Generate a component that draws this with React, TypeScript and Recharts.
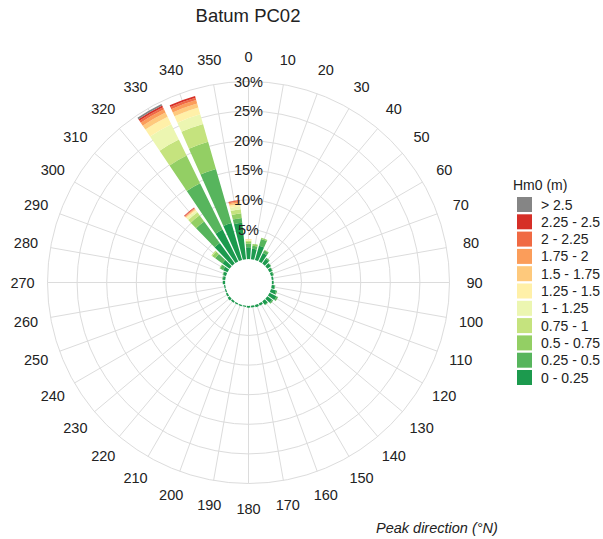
import React from "react";
import {
  RadialBarChart,
  RadialBar,
  PolarAngleAxis,
  PolarRadiusAxis,
  PolarGrid,
  Legend,
} from "recharts";

const directions = [
  0, 10, 20, 30, 40, 50, 60, 70, 80, 90, 100, 110, 120, 130, 140, 150, 160, 170,
  180, 190, 200, 210, 220, 230, 240, 250, 260, 270, 280, 290, 300, 310, 320, 330,
  340, 350,
];

// percent of records per direction, one array per Hm0 class (lowest first)
const hs0 = [2.0, 1.8, 2.5, 1.6, 1.0, 0.7, 0.5, 0.4, 0.3, 0.3, 0.5, 0.9, 1.3, 1.0, 0.7, 0.4, 0.4, 0.3, 0.3, 0.2, 0.2, 0.2, 0.3, 0.4, 0.3, 0.2, 0.2, 0.4, 0.4, 0.5, 0.8, 1.5, 4.3, 6.0, 6.5, 6.2];
const hs1 = [0.6, 0.5, 1.2, 0.5, 0.2, 0.1, 0.1, 0.1, 0.0, 0.0, 0.1, 0.2, 0.3, 0.2, 0.1, 0.0, 0.0, 0.0, 0.0, 0.0, 0.0, 0.0, 0.0, 0.0, 0.0, 0.0, 0.0, 0.0, 0.1, 0.1, 0.6, 1.5, 4.5, 8.7, 9.5, 0.8];
const hs2 = [0.3, 0.3, 0.2, 0.1, 0.0, 0.0, 0.0, 0.0, 0.0, 0.0, 0.0, 0.0, 0.0, 0.0, 0.0, 0.0, 0.0, 0.0, 0.0, 0.0, 0.0, 0.0, 0.0, 0.0, 0.0, 0.0, 0.0, 0.0, 0.0, 0.0, 0.1, 0.6, 1.3, 5.2, 4.8, 0.8];
const hs3 = [0.2, 0.0, 0.0, 0.0, 0.0, 0.0, 0.0, 0.0, 0.0, 0.0, 0.0, 0.0, 0.0, 0.0, 0.0, 0.0, 0.0, 0.0, 0.0, 0.0, 0.0, 0.0, 0.0, 0.0, 0.0, 0.0, 0.0, 0.0, 0.0, 0.0, 0.0, 0.2, 0.6, 3.0, 3.1, 0.7];
const hs4 = [0.1, 0.0, 0.0, 0.0, 0.0, 0.0, 0.0, 0.0, 0.0, 0.0, 0.0, 0.0, 0.0, 0.0, 0.0, 0.0, 0.0, 0.0, 0.0, 0.0, 0.0, 0.0, 0.0, 0.0, 0.0, 0.0, 0.0, 0.0, 0.0, 0.0, 0.0, 0.0, 0.35, 2.9, 1.7, 0.5];
const hs5 = [0.15, 0.0, 0.0, 0.0, 0.0, 0.0, 0.0, 0.0, 0.0, 0.0, 0.0, 0.0, 0.0, 0.0, 0.0, 0.0, 0.0, 0.0, 0.0, 0.0, 0.0, 0.0, 0.0, 0.0, 0.0, 0.0, 0.0, 0.0, 0.0, 0.0, 0.0, 0.0, 0.2, 1.4, 1.2, 0.4];
const hs6 = [0.05, 0.0, 0.0, 0.0, 0.0, 0.0, 0.0, 0.0, 0.0, 0.0, 0.0, 0.0, 0.0, 0.0, 0.0, 0.0, 0.0, 0.0, 0.0, 0.0, 0.0, 0.0, 0.0, 0.0, 0.0, 0.0, 0.0, 0.0, 0.0, 0.0, 0.0, 0.0, 0.15, 0.8, 0.7, 0.25];
const hs7 = [0.0, 0.0, 0.0, 0.0, 0.0, 0.0, 0.0, 0.0, 0.0, 0.0, 0.0, 0.0, 0.0, 0.0, 0.0, 0.0, 0.0, 0.0, 0.0, 0.0, 0.0, 0.0, 0.0, 0.0, 0.0, 0.0, 0.0, 0.0, 0.0, 0.0, 0.0, 0.0, 0.1, 0.6, 0.6, 0.2];
const hs8 = [0.0, 0.0, 0.0, 0.0, 0.0, 0.0, 0.0, 0.0, 0.0, 0.0, 0.0, 0.0, 0.0, 0.0, 0.0, 0.0, 0.0, 0.0, 0.0, 0.0, 0.0, 0.0, 0.0, 0.0, 0.0, 0.0, 0.0, 0.0, 0.0, 0.0, 0.0, 0.0, 0.1, 0.4, 0.4, 0.15];
const hs9 = [0.0, 0.0, 0.0, 0.0, 0.0, 0.0, 0.0, 0.0, 0.0, 0.0, 0.0, 0.0, 0.0, 0.0, 0.0, 0.0, 0.0, 0.0, 0.0, 0.0, 0.0, 0.0, 0.0, 0.0, 0.0, 0.0, 0.0, 0.0, 0.0, 0.0, 0.0, 0.0, 0.1, 0.3, 0.3, 0.05];
const hs10 = [0.0, 0.0, 0.0, 0.0, 0.0, 0.0, 0.0, 0.0, 0.0, 0.0, 0.0, 0.0, 0.0, 0.0, 0.0, 0.0, 0.0, 0.0, 0.0, 0.0, 0.0, 0.0, 0.0, 0.0, 0.0, 0.0, 0.0, 0.0, 0.0, 0.0, 0.0, 0.0, 0.0, 0.3, 0.0, 0.0];

const classLabels = ["0 - 0.25", "0.25 - 0.5", "0.5 - 0.75", "0.75 - 1", "1 - 1.25", "1.25 - 1.5", "1.5 - 1.75", "1.75 - 2", "2 - 2.25", "2.25 - 2.5", "> 2.5"];
const classColors = ["#1c9a4e", "#57b55d", "#93cf64", "#c5e37e", "#ecf6b1", "#fff0a8", "#fec97c", "#fb9d5a", "#f06a43", "#d62f27", "#858585"];
const classValues = [hs0, hs1, hs2, hs3, hs4, hs5, hs6, hs7, hs8, hs9, hs10];

const pctTicks = [5, 10, 15, 20, 25, 30];

const data = directions.map((dir, i) => {
  const row: Record<string, number> = { dir };
  classValues.forEach((vals, k) => {
    row["c" + k] = vals[i];
  });
  return row;
});

const FONT = "'Liberation Sans', Arial, sans-serif";
const CX = 248.5;
const CY = 282.5;
const OUTER = 201;
const LABEL_R = 226;
// band scale puts the tick at the band edge; labels sit at the band middle
const HALF_BAND = 360 / directions.length / 2;

function DirTick(props: any) {
  const { payload } = props;
  const a = ((payload.coordinate + HALF_BAND) * Math.PI) / 180;
  const x = CX + LABEL_R * Math.cos(a);
  const y = CY - LABEL_R * Math.sin(a);
  return (
    <text x={x} y={y} textAnchor="middle" dominantBaseline="central" fontSize={14.5} fill="#222" fontFamily={FONT}>
      {payload.value}
    </text>
  );
}

function PctTick(props: any) {
  const { x, y, payload } = props;
  return (
    <text x={x} y={y} textAnchor="middle" dominantBaseline="central" fontSize={14.5} fill="#222" fontFamily={FONT}>
      {payload.value}%
    </text>
  );
}

function HmLegend() {
  const rows = classLabels.map((l, i) => ({ l, c: classColors[i] })).reverse();
  return (
    <svg width={93} height={220} style={{ display: "block" }}>
      <text x={3} y={11} dominantBaseline="central" fontSize={14} fill="#222" fontFamily={FONT}>
        Hm0 (m)
      </text>
      {rows.map((r, i) => (
        <g key={r.l}>
          <rect x={7} y={23 + i * 17.3} width={15} height={15} fill={r.c} />
          <text x={31} y={30.5 + i * 17.3} dominantBaseline="central" fontSize={14} fill="#222" fontFamily={FONT}>
            {r.l}
          </text>
        </g>
      ))}
    </svg>
  );
}

export default function App() {
  return (
    <div style={{ position: "absolute", left: 0, top: 0, width: 603, height: 539, background: "#fff" }}>
      <RadialBarChart
        width={603}
        height={539}
        data={data}
        layout="centric"
        cx={CX}
        cy={CY}
        innerRadius={23.4}
        outerRadius={OUTER}
        startAngle={90 - HALF_BAND}
        endAngle={-270 - HALF_BAND}
        barCategoryGap="10%"
        margin={{ top: 0, right: 0, bottom: 0, left: 0 }}
      >
        <PolarGrid
          gridType="circle"
          stroke="#dcdcdc"
          polarAngles={directions.map((d) => 90 - d)}
        />
        <PolarAngleAxis
          dataKey="dir"
          type="category"
          axisLine={false}
          tickLine={false}
          tick={<DirTick />}
        />
        {classColors.map((c, k) => (
          <RadialBar
            key={k}
            dataKey={"c" + k}
            stackId="a"
            fill={c}
            isAnimationActive={false}
          />
        ))}
        <PolarRadiusAxis
          type="number"
          angle={90}
          domain={[0, 30]}
          ticks={pctTicks}
          axisLine={false}
          tickLine={false}
          tick={<PctTick />}
        />
        <Legend
          content={<HmLegend />}
          layout="vertical"
          align="left"
          verticalAlign="top"
          wrapperStyle={{ left: 510, top: 174, width: 93 }}
        />
        <text x={248} y={22} textAnchor="middle" fontSize={18.5} fill="#222" fontFamily={FONT}>
          Batum PC02
        </text>
        <text x={376} y={533} fontSize={14.5} fontStyle="italic" fill="#222" fontFamily={FONT}>
          Peak direction (°N)
        </text>
      </RadialBarChart>
    </div>
  );
}
